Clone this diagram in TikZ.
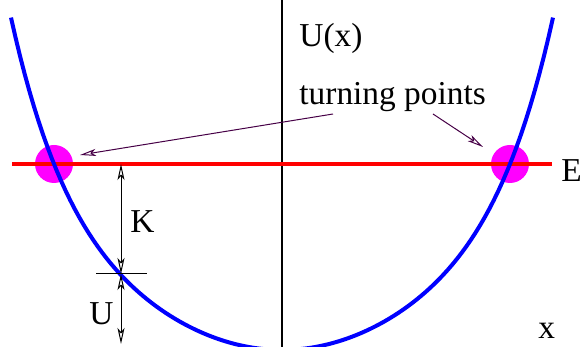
\documentclass[tikz,border=0pt]{standalone}
\usepackage{fontspec}
\setmainfont{Liberation Serif}
\usetikzlibrary{arrows.meta}

\definecolor{tparrow}{RGB}{70,0,70}
\definecolor{tpfill}{RGB}{255,0,255}
\definecolor{potblue}{RGB}{0,0,255}
\definecolor{Ered}{RGB}{255,0,0}

\begin{document}
\begin{tikzpicture}[
  x=0.5pt, y=-0.5pt,
  declare function={pot(\t)=27.12*\t*\t-0.2853*\t*\t*\t*\t+0.3752*\t*\t*\t*\t*\t*\t;},
  every node/.style={font=\fontsize{16.7}{20}\selectfont, inner sep=0pt},
  lbl/.style={anchor=base west},
  tpdot/.style={circle, fill=tpfill, minimum size=19pt},
  dimline/.style={line width=0.5pt, {Stealth[open,length=8pt,width=3.5pt,inset=2pt]}-{Stealth[open,length=8pt,width=3.5pt,inset=2pt]}},
  tpline/.style={draw=tparrow, line width=0.5pt, -{Stealth[open,length=8pt,width=3.5pt,inset=2pt]}}
]
\useasboundingbox (0,0) rectangle (580,347);

% axis
\coordinate (ytop) at (282,0);
\coordinate (ybot) at (282,347);
\draw[line width=0.8pt] (ytop) -- (ybot);

% turning points
\node[tpdot] (tpL) at (54,164) {};
\node[tpdot] (tpR) at (510,164) {};

% energy level
\coordinate (Ea) at (12,164);
\coordinate (Eb) at (552,164);
\draw[Ered, line width=2pt] (Ea) -- (Eb);

% potential
\begin{scope}
\clip (0,0) rectangle (580,347);
\draw[potblue, line width=2pt] plot[domain=-271:271, samples=120]
  ({282+\x}, {350-pot(\x/100)});
\end{scope}

% labels
\node[lbl] (Ux) at (299,47) {U(x)};
\node[lbl] (tp) at (299,105) {turning points};
\node[lbl] (E) at (561,182) {E};
\node[lbl] (xl) at (538,339) {x};
\node[lbl] (K) at (130,233) {K};
\node[lbl] (U) at (89,325) {U};

% arrows to the turning points
\coordinate (tpa) at (333,114);
\coordinate (tpb) at (433,114);
\coordinate (tpLa) at (80,155);
\coordinate (tpRa) at (483,147);
\draw[tpline] (tpa) -- (tpLa);
\draw[tpline] (tpb) -- (tpRa);

% K and U
\coordinate (dE) at (121,164);
\coordinate (dU) at (121,274);
\coordinate (d0) at (121,344);
\coordinate (tickL) at (96,274);
\coordinate (tickR) at (147,274);
\draw[line width=0.5pt] (tickL) -- (tickR);
\draw[dimline] (dE) -- (dU);
\draw[dimline] (dU) -- (d0);
\end{tikzpicture}
\end{document}
